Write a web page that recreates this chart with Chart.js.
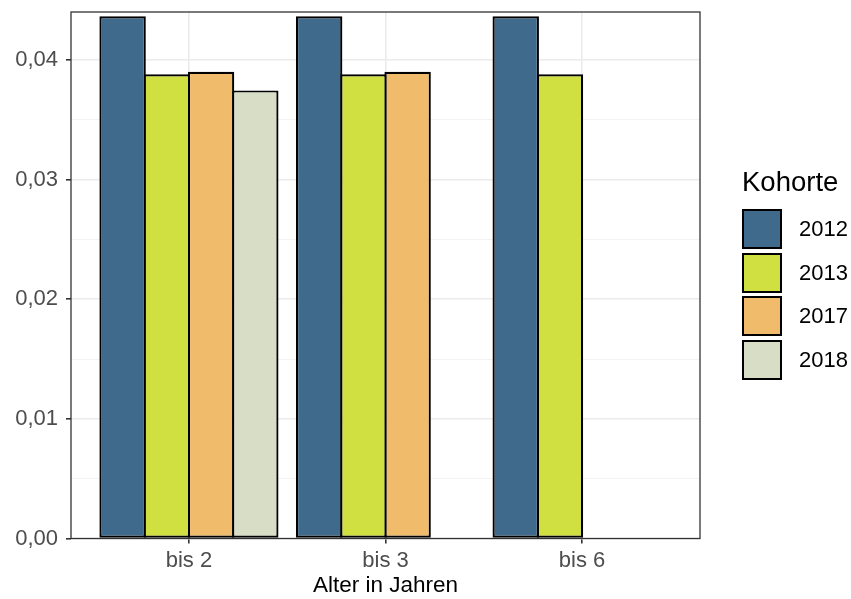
<!DOCTYPE html>
<html>
<head>
<meta charset="utf-8">
<script src="https://cdn.jsdelivr.net/npm/chart.js@4/dist/chart.umd.min.js"></script>
<style>
  html, body { margin: 0; padding: 0; background: #fff; }
  #wrap { position: relative; width: 851px; height: 599px; }
  #c { position: absolute; left: 0; top: 0; }
  #legend { position: absolute; left: 742px; top: 165px; font-family: "Liberation Sans", Arial, sans-serif; color: #000; }
  #legend .title { font-size: 27.5px; line-height: 34px; height: 44px; }
  #legend .item { position: relative; height: 43.5px; }
  #legend .key { position: absolute; left: 0; top: 0; width: 36px; height: 36px; border: 2px solid #000; }
  #legend .lab { position: absolute; left: 57px; top: 0; height: 40px; line-height: 40px; font-size: 22px; }
</style>
</head>
<body>
<div id="wrap">
  <canvas id="c" width="851" height="599"></canvas>
  <div id="legend"></div>
</div>
<script>
// ---- data ----
const categories = ['bis 2', 'bis 3', 'bis 6'];
const cohorts = ['2012', '2013', '2017', '2018'];
const v2012 = [0.04364, 0.04364, 0.04364];
const v2013 = [0.03879, 0.03879, 0.03879];
const v2017 = [0.03900, 0.03900, null];
const v2018 = [0.03745, null, null];
const yTickValues = [0, 0.01, 0.02, 0.03, 0.04];
const yAxisMax = 0.044;
const xTitle = 'Alter in Jahren';
const legendTitle = 'Kohorte';

const colors = ['#3F6A8B', '#D0E040', '#F0BC6C', '#D8DEC6'];
const seriesValues = [v2012, v2013, v2017, v2018];

function toPoints(arr) {
  const pts = [];
  arr.forEach((v, i) => { if (v !== null) pts.push({ x: i + 1, y: v }); });
  return pts;
}

const datasets = cohorts.map((name, k) => ({
  label: name,
  data: toPoints(seriesValues[k]),
  backgroundColor: colors[k],
  borderColor: '#000',
  borderWidth: 2.2,
  borderSkipped: false,
  categoryPercentage: 0.9,
  barPercentage: 1.05
}));

const isMajorY = v => yTickValues.some(t => Math.abs(t - v) < 1e-9);

const panelBorder = {
  id: 'panelBorder',
  afterDatasetsDraw(chart) {
    const { ctx, chartArea: a } = chart;
    ctx.save();
    ctx.strokeStyle = '#333333';
    ctx.lineWidth = 1.3;
    ctx.strokeRect(a.left, a.top, a.right - a.left, a.bottom - a.top);
    ctx.restore();
  }
};

const chart = new Chart(document.getElementById('c'), {
  type: 'bar',
  data: { datasets },
  plugins: [panelBorder],
  options: {
    responsive: false,
    animation: false,
    layout: { padding: { top: 12, right: 151, left: 0, bottom: 0 } },
    plugins: { legend: { display: false }, tooltip: { enabled: false } },
    scales: {
      x: {
        type: 'linear',
        min: 0.4,
        max: 3.6,
        offset: false,
        afterBuildTicks: s => { s.ticks = categories.map((c, i) => ({ value: i + 1 })); },
        afterFit: s => { s.height = 60.5; s.paddingLeft = 0; s.paddingRight = 0; },
        border: { display: false },
        grid: { offset: false, color: '#EBEBEB', lineWidth: 1.6, tickColor: '#333333', tickLength: 5, drawTicks: true },
        ticks: {
          autoSkip: false,
          maxRotation: 0,
          padding: 4,
          color: '#4D4D4D',
          font: { family: 'Liberation Sans', size: 22 },
          callback: v => categories[Math.round(v) - 1]
        },
        title: {
          display: true,
          text: xTitle,
          color: '#000',
          font: { family: 'Liberation Sans', size: 22.5 },
          padding: { top: 0, bottom: 0 }
        }
      },
      y: {
        min: 0,
        max: yAxisMax,
        afterBuildTicks: s => {
          const t = [];
          for (let i = 0; i * 0.005 <= yAxisMax + 1e-9; i++) t.push({ value: +(i * 0.005).toFixed(3) });
          s.ticks = t;
        },
        afterFit: s => { s.width = 71; s.paddingTop = 0; s.paddingBottom = 0; },
        border: { display: false },
        grid: {
          color: c => isMajorY(c.tick.value) ? '#EBEBEB' : '#F2F2F2',
          lineWidth: c => isMajorY(c.tick.value) ? 1.6 : 0.9,
          tickColor: c => isMajorY(c.tick.value) ? '#333333' : 'rgba(0,0,0,0)',
          tickLength: 5
        },
        ticks: {
          autoSkip: false,
          padding: 8,
          color: '#4D4D4D',
          font: { family: 'Liberation Sans', size: 22 },
          callback: v => isMajorY(v) ? v.toFixed(2).replace('.', ',') : ''
        }
      }
    }
  }
});

// legend (HTML, built from the datasets)
const lg = document.getElementById('legend');
const t = document.createElement('div');
t.className = 'title';
t.textContent = legendTitle;
lg.appendChild(t);
chart.data.datasets.forEach(ds => {
  const it = document.createElement('div');
  it.className = 'item';
  const key = document.createElement('div');
  key.className = 'key';
  key.style.background = ds.backgroundColor;
  const lab = document.createElement('div');
  lab.className = 'lab';
  lab.textContent = ds.label;
  it.appendChild(key);
  it.appendChild(lab);
  lg.appendChild(it);
});
</script>
</body>
</html>
